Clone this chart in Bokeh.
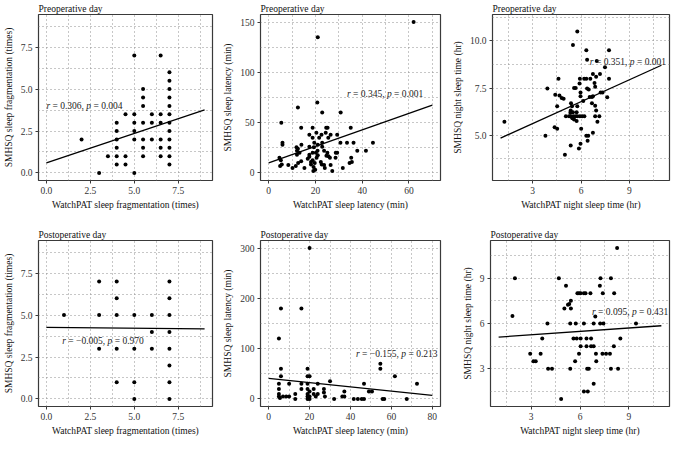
from bokeh.plotting import figure
from bokeh.models import Range1d, FixedTicker, NumeralTickFormatter, Label
from bokeh.layouts import column, row
from bokeh.embed import file_html
from bokeh.resources import INLINE

FONT = "Liberation Serif"

# ---------------- data ----------------
titles = ["Preoperative day", "Postoperative day"]
x_labels = ["WatchPAT sleep fragmentation (times)", "WatchPAT sleep latency (min)", "WatchPAT night sleep time (hr)"]
y_labels = ["SMHSQ sleep fragmentation (times)", "SMHSQ sleep latency (min)", "SMHSQ night sleep time (hr)"]

# Panel 1: preoperative fragmentation
pre_frag_x = [2, 3, 3.5, 4, 4, 4, 4, 4, 4, 4.5, 4.5, 4.5, 5, 5, 5, 5, 5, 5, 5.5, 5.5, 5.5, 5.5, 5.5, 5.5, 5.5,
              6, 6, 6, 6.5, 6.5, 6.5, 6.5, 6.5, 6.5, 7, 7, 7, 7, 7, 7, 7, 7, 7, 7, 7, 7]
pre_frag_y = [2, 0, 1, 3, 2.5, 2, 1.5, 1, 0.5, 3.5, 1, 0.5, 7, 3.5, 3, 2.5, 2, 0, 5, 4.5, 4, 3, 2, 1.5, 1,
              3.5, 3, 2, 7, 3.5, 3, 2, 1.5, 1, 6, 5.5, 5, 4.5, 4, 3.5, 3, 2.5, 2, 1.5, 1, 0.5]
pre_frag_fit = (0.6, 0.352)       # intercept, slope
pre_frag_stats = ("0.306", "0.004")

# Panel 2: preoperative latency
pre_lat_x = [62, 21, 20.8, 12.5, 22.9, 30.8, 5.4, 13.9, 18.8, 24.6, 25.2, 35.1, 17.4, 20.4, 22.6, 24.4, 18.8,
             21.6, 26.5, 29.3, 5.9, 5.9, 19.5, 22.9, 25.5, 30.7, 33.5, 36.3, 44.6, 11.9, 12.5, 14, 17.4, 19.3,
             21, 22.9, 29.3, 37.9, 41.6, 12.1, 13.2, 12.1, 17.4, 18.8, 20.2, 23.7, 25.1, 35.3, 34.6, 4.6, 5.2,
             5.6, 4.9, 8.4, 10.2, 11.6, 12.6, 13.9, 15.3, 16.7, 17.4, 18.1, 18.1, 18.8, 19.2, 19.7, 19.9, 20.5,
             21, 22.3, 22.7, 23.7, 24, 24.7, 26.5, 27.2, 19.1, 31.7, 28.6, 35.6, 26.2, 25.6, 20.9, 28.7]
pre_lat_y = [150, 135, 70, 65, 60, 60, 50, 45, 45, 45, 45, 45, 38, 40, 38, 40, 35,
             35, 38, 38, 30, 28, 30, 30, 35, 30, 30, 30, 30, 25.5, 24, 28, 26, 25.5,
             28, 26, 20, 22, 22, 22, 20, 18, 18, 20, 20, 22, 20, 15, 10, 15, 12.6,
             8.4, 6.8, 7.8, 5, 6.8, 10, 11.6, 5, 14, 16, 8.4, 11, 12.6, 6, 10, 3.2, 15,
             17.5, 11, 8.4, 7.8, 5, 17, 7.8, 2, 2, 5, 15, 11, 15, 16.5, 22, 20]
pre_lat_fit = (10.0, 0.821)
pre_lat_stats = ("0.345", "0.001")

# Panel 3: preoperative night sleep time
pre_night_x = [1.24, 3.79, 3.91, 4.36, 4.52, 4.6, 4.4, 4.66, 4.8, 4.92, 4.52, 5.0, 5.06, 5.26, 5.37, 5.53,
               5.67, 5.77, 5.93, 6.07, 6.21, 6.88, 7.14, 5.46, 5.57, 5.73, 7.02, 6.01, 6.74, 6.33, 6.45,
               5.97, 6.41, 5.36, 5.87, 5.38, 5.44, 5.36, 5.5, 5.34, 5.77, 6.14, 6.68, 6.88, 6.94, 5.73,
               5.97, 5.97, 6.54, 6.68, 6.74, 7.22, 7.34, 7.63, 5.57, 5.67, 6.38, 6.48, 5.91, 6.88, 5.93,
               6.2, 6.33, 6.58, 7.74, 6.84, 7.18, 6.94, 6.74, 6.38, 6.98, 7.49, 6.33, 7.74, 5.5, 5.77]
pre_night_y = [5.72, 4.97, 7.48, 5.42, 5.35, 7.99, 7.15, 7.11, 6.98, 6.93, 6.53, 3.96, 6.0, 6.0, 6.0, 6.0,
               6.0, 6.0, 6.0, 6.0, 6.0, 6.0, 6.0, 5.9, 5.84, 5.76, 5.72, 5.35, 5.13, 4.97, 4.97,
               4.55, 4.71, 4.46, 4.3, 6.69, 6.53, 6.31, 6.22, 6.19, 6.53, 6.81, 6.69, 6.56, 6.31, 6.22,
               7.27, 7.06, 7.03, 7.03, 7.06, 7.27, 7.27, 7.01, 7.5, 7.5, 7.48, 7.43, 7.74, 7.57, 7.99,
               8.0, 8.0, 8.0, 8.0, 7.77, 8.24, 8.1, 8.24, 9.0, 8.94, 8.6, 9.5, 9.5, 9.78, 10.5]
pre_night_fit = (4.464, 0.386)
pre_night_stats = ("0.351", "0.001")

# Panel 4: postoperative fragmentation
post_frag_x = [1, 3, 3, 3, 4, 4, 4, 4, 4, 5, 5, 5, 5, 6, 6, 6, 7, 7, 7, 7, 7, 7, 7, 7]
post_frag_y = [5, 7, 5, 3, 7, 6, 5, 3, 1, 5, 3, 1, 0, 5, 4, 3, 7, 6, 5, 4, 3, 2, 1, 0]
post_frag_fit = (4.27, -0.01)
post_frag_stats = ("\u22120.005", "0.970")

# Panel 5: postoperative latency
post_lat_x = [20, 6, 16, 5, 6, 19, 6, 19, 20, 5, 10, 16, 19, 24, 30, 5, 16, 19, 22, 27, 27, 5, 5, 5.5, 7,
              8.6, 10, 13, 13, 19, 19, 19, 20, 20, 20, 22, 23, 24, 27.5, 32, 37, 37, 36,
              41.6, 43.6, 45.5, 46.6, 46.6, 49, 50.5, 54.6, 54.6, 55.7, 56.5, 61.7, 67.5, 72.5]
post_lat_y = [300, 180, 180, 120, 60, 60, 45, 45, 45, 30, 30, 30, 30, 30, 35, 20, 20, 20, 20, 20, 13, 10, 5, 2, 5,
              5, 5, 10, 0, 10, 5, 0, 15, 5, 0, 10, 5, 10, 5, 0, 15, 5, 5,
              0, 0, 0, 0, 30, 15, 15, 70, 60, 0, 0, 45, 0, 30]
post_lat_fit = (41.0, -0.425)
post_lat_stats = ("\u22120.155", "0.213")

# Panel 6: postoperative night sleep time
post_night_x = [1.85, 2.0, 8.28, 4.7, 7.26, 7.9, 5.14, 7.22, 5.84, 5.94, 6.04, 6.24, 6.34, 6.64, 7.4, 8.1,
                5.26, 5.34, 5.44, 5.04, 5.44, 6.94, 4.0, 5.4, 5.74, 6.24, 6.84, 7.24, 7.44, 9.44, 3.68, 5.6,
                5.8, 6.04, 6.4, 6.68, 8.48, 6.04, 6.4, 6.68, 6.84, 8.08, 2.94, 3.58, 5.94, 6.98, 7.38, 7.6,
                7.84, 3.14, 3.28, 5.7, 7.0, 4.04, 4.28, 5.4, 6.44, 6.54, 7.9, 8.34, 6.84, 6.24, 6.48, 4.84]
post_night_y = [6.5, 9.0, 11.0, 9.0, 9.0, 9.0, 8.5, 8.5, 8.0, 8.0, 8.0, 8.0, 8.0, 8.0, 8.0, 8.0,
                7.24, 7.3, 7.0, 7.0, 7.5, 6.46, 6.0, 6.0, 6.0, 6.0, 6.0, 6.0, 6.0, 6.0, 5.0, 5.0,
                5.0, 5.0, 5.0, 5.0, 5.0, 4.5, 4.5, 4.5, 4.5, 4.5, 4.0, 4.0, 4.0, 4.0, 4.0, 4.0,
                4.0, 3.5, 3.5, 3.5, 3.5, 3.0, 3.0, 3.0, 3.0, 3.0, 3.0, 3.0, 2.0, 1.5, 1.5, 1.0]
post_night_fit = (5.025, 0.075)
post_night_stats = ("0.095", "0.431")

# axis ticks
frag_ticks = [0, 2.5, 5, 7.5]
frag_minor = [1.25, 3.75, 6.25, 8.75]
lat_pre_xticks = [0, 20, 40, 60]
lat_pre_yticks = [0, 50, 100, 150]
lat_post_xticks = [0, 20, 40, 60, 80]
lat_post_yticks = [0, 100, 200, 300]
night_ticks = [3, 6, 9]
night_pre_yticks = [5, 7.5, 10]


# ---------------- helpers ----------------
NBSP = "\u00a0"
NORMAL_W = {"0": .5, "1": .5, "2": .5, "3": .5, "4": .5, "5": .5, "6": .5, "7": .5, "8": .5, "9": .5,
            " ": .25, NBSP: .25, "=": .564, ",": .25, ".": .25, "\u2212": .564}
ANN_SIZE = 9.5


def text_w(s):
    return sum(NORMAL_W.get(c, .5) for c in s) * ANN_SIZE


def add_stats(p, x, y, rtxt, ptxt):
    pieces = [("r", "italic", .39 * ANN_SIZE),
              (f"{NBSP}={NBSP}{rtxt},{NBSP}", "normal", None),
              ("p", "italic", .5 * ANN_SIZE),
              (f"{NBSP}={NBSP}{ptxt}", "normal", None)]
    off = 0.0
    for txt, style, w in pieces:
        p.add_layout(Label(x=x, y=y, x_offset=off, text=txt, text_font=FONT, text_font_style=style,
                           text_font_size=f"{ANN_SIZE}px", text_color="#222222",
                           text_baseline="middle", text_align="left"))
        off += w if w is not None else text_w(txt)


def panel(title, xs, ys, fit, fit_range, xr, yr, xt, xm, yt, ym, xfmt, yfmt, xlabel, ylabel,
          stats, stats_xy, width, height, borders):
    bl, br, bt, bb = borders
    p = figure(width=width, height=height, output_backend="svg", toolbar_location=None,
               x_range=Range1d(*xr), y_range=Range1d(*yr),
               min_border_left=bl, min_border_right=br, min_border_top=bt, min_border_bottom=bb)
    p.title.text = title
    p.title.text_font = FONT
    p.title.text_font_size = "9.5px"
    p.title.text_font_style = "normal"
    p.title.text_color = "#111111"
    p.title.align = "left"
    p.title.offset = 0
    p.title.standoff = 2
    p.background_fill_color = "white"
    p.border_fill_color = "white"
    p.outline_line_color = "#3a3a3a"
    p.outline_line_width = 1.2

    p.xaxis.ticker = FixedTicker(ticks=xt, minor_ticks=xm)
    p.yaxis.ticker = FixedTicker(ticks=yt, minor_ticks=ym)
    p.xaxis.formatter = NumeralTickFormatter(format=xfmt)
    p.yaxis.formatter = NumeralTickFormatter(format=yfmt)
    p.xaxis.axis_label = xlabel
    p.yaxis.axis_label = ylabel
    for ax in (p.xaxis[0], p.yaxis[0]):
        ax.axis_line_color = None
        ax.major_tick_line_color = "#3a3a3a"
        ax.major_tick_out = 3
        ax.major_tick_in = 0
        ax.minor_tick_line_color = None
        ax.major_label_text_font = FONT
        ax.major_label_text_font_size = "9.5px"
        ax.major_label_text_color = "#333333"
        ax.major_label_standoff = 2
        ax.axis_label_text_font = FONT
        ax.axis_label_text_font_size = "9.5px"
        ax.axis_label_text_font_style = "normal"
        ax.axis_label_text_color = "#111111"
    p.xaxis.axis_label_standoff = 3
    p.yaxis.axis_label_standoff = 4

    for g in (p.xgrid[0], p.ygrid[0]):
        g.grid_line_color = "#8f8f8f"
        g.grid_line_dash = "1 3"
        g.grid_line_width = 1
        g.minor_grid_line_color = "#8f8f8f"
        g.minor_grid_line_dash = "1 3"
        g.minor_grid_line_width = 1

    p.scatter(xs, ys, size=4, fill_color="black", line_color=None)
    a, b = fit
    lx = list(fit_range)
    ly = [a + b * v for v in lx]
    p.line(lx, ly, line_color="black", line_width=1.3)
    add_stats(p, stats_xy[0], stats_xy[1], stats[0], stats[1])
    return p


H1, H2 = 213, 225
B_TOP1, B_BOT1 = 12, 33
B_TOP2, B_BOT2 = 27, 30

p1 = panel(titles[0], pre_frag_x, pre_frag_y, pre_frag_fit, (0, 9), (-0.45, 9.45), (-0.45, 9.45),
           frag_ticks, frag_minor, frag_ticks, frag_minor, "0.0", "0.0", x_labels[0], y_labels[0],
           pre_frag_stats, (0.0, 4.0), 220, H1, (33, 8, B_TOP1, B_BOT1))
p2 = panel(titles[0], pre_lat_x, pre_lat_y, pre_lat_fit, (0, 70), (-3.5, 73.5), (-7.5, 157.5),
           lat_pre_xticks, [10, 30, 50, 70], lat_pre_yticks, [25, 75, 125], "0", "0", x_labels[1], y_labels[1],
           pre_lat_stats, (33.5, 78), 229, H1, (40, 9, B_TOP1, B_BOT1))
p3 = panel(titles[0], pre_night_x, pre_night_y, pre_night_fit, (1, 11), (0.5, 11.5), (2.6, 11.4),
           night_ticks, [1.5, 4.5, 7.5, 10.5], night_pre_yticks, [3.75, 6.25, 8.75, 11.25], "0", "0.0",
           x_labels[2], y_labels[2], pre_night_stats, (6.55, 8.9), 222, H1, (41, 2, B_TOP1, B_BOT1))

p4 = panel(titles[1], post_frag_x, post_frag_y, post_frag_fit, (0, 9), (-0.45, 9.45), (-0.45, 9.45),
           frag_ticks, frag_minor, frag_ticks, frag_minor, "0.0", "0.0", x_labels[0], y_labels[0],
           post_frag_stats, (0.9, 3.43), 220, H2, (33, 8, B_TOP2, B_BOT2))
p5 = panel(titles[1], post_lat_x, post_lat_y, post_lat_fit, (0, 80), (-4, 84), (-15, 315),
           lat_post_xticks, [10, 30, 50, 70], lat_post_yticks, [50, 150, 250], "0", "0", x_labels[1], y_labels[1],
           post_lat_stats, (42.7, 90), 229, H2, (40, 9, B_TOP2, B_BOT2))
p6 = panel(titles[1], post_night_x, post_night_y, post_night_fit, (1, 11), (0.5, 11.5), (0.5, 11.5),
           night_ticks, [1.5, 4.5, 7.5, 10.5], night_ticks, [1.5, 4.5, 7.5, 10.5], "0", "0",
           x_labels[2], y_labels[2], post_night_stats, (6.74, 6.78), 222, H2, (41, 2, B_TOP2, B_BOT2))

layout = column(row(p1, p2, p3), row(p4, p5, p6))

open("out.html", "w").write(file_html(layout, INLINE))
